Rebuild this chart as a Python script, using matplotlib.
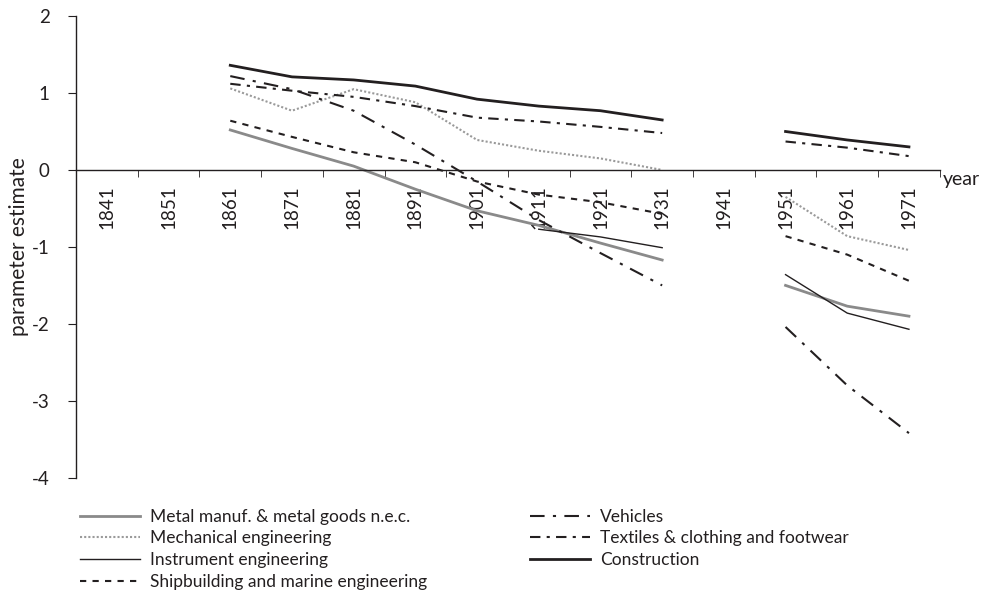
import numpy as np
import matplotlib
matplotlib.use('Agg')
import matplotlib.pyplot as plt

plt.rcParams['font.family'] = ['Lato', 'DejaVu Sans']

years = ['1841', '1851', '1861', '1871', '1881', '1891', '1901', '1911',
         '1921', '1931', '1941', '1951', '1961', '1971']
nan = np.nan

# parameter estimates per decade (nan = no estimate)
metal = [nan, nan, 0.52, 0.28, 0.05, -0.25, -0.53, -0.72, -0.95, -1.17, nan, -1.50, -1.77, -1.90]
mechanical = [nan, nan, 1.06, 0.77, 1.05, 0.88, 0.39, 0.25, 0.15, 0.00, nan, -0.35, -0.86, -1.04]
instrument = [nan, nan, nan, nan, nan, nan, nan, -0.77, -0.87, -1.01, nan, -1.36, -1.86, -2.07]
shipbuilding = [nan, nan, 0.64, 0.43, 0.23, 0.10, -0.15, -0.32, -0.42, -0.57, nan, -0.86, -1.10, -1.44]
vehicles = [nan, nan, 1.22, 1.05, 0.77, 0.33, -0.15, -0.65, -1.08, -1.50, nan, -2.04, -2.80, -3.42]
textiles = [nan, nan, 1.12, 1.03, 0.95, 0.83, 0.68, 0.63, 0.56, 0.48, nan, 0.37, 0.29, 0.18]
construction = [nan, nan, 1.36, 1.21, 1.17, 1.09, 0.92, 0.83, 0.77, 0.65, nan, 0.50, 0.39, 0.30]

txt = '#231f20'
fig = plt.figure(figsize=(9.81, 5.95), dpi=100)
ax = fig.add_axes([0.0775, 0.197, 0.8805, 0.776])

x = np.arange(len(years))
ax.plot(x, metal, color='#8a8a8a', lw=2, label='Metal manuf. & metal goods n.e.c.')
ax.plot(x, mechanical, color='#9a9a9a', lw=1.5, linestyle=(0, (1, 1)), label='Mechanical engineering')
ax.plot(x, instrument, color='#231f20', lw=1, label='Instrument engineering')
ax.plot(x, shipbuilding, color='#231f20', lw=1.5, linestyle=(0, (3, 3)), label='Shipbuilding and marine engineering')
ax.plot(x, vehicles, color='#231f20', lw=1.5, linestyle=(0, (7, 4, 1.5, 4)), label='Vehicles')
ax.plot(x, textiles, color='#231f20', lw=1.5, linestyle=(0, (5, 3, 1.5, 3)), label='Textiles & clothing and footwear')
ax.plot(x, construction, color='#231f20', lw=2, label='Construction')

ax.set_xlim(-0.5, len(years) - 0.5)
ax.set_ylim(-4, 2)
ax.set_yticks([-4, -3, -2, -1, 0, 1, 2])
ax.set_yticklabels(['-4', '-3', '-2', '-1', '0', '1', '2'])

# x axis drawn through zero, ticks between categories
ax.spines['bottom'].set_position(('data', 0))
ax.spines['top'].set_visible(False)
ax.spines['right'].set_visible(False)
for s in ['bottom', 'left']:
    ax.spines[s].set_color(txt)
    ax.spines[s].set_linewidth(1)

ax.set_xticks(x)
ax.set_xticklabels(years, rotation=90)
ax.set_xticks(np.arange(-0.5, len(years)), minor=True)
ax.tick_params(axis='x', which='major', length=0, pad=11, labelsize=13.5, colors=txt)
ax.tick_params(axis='x', which='minor', length=5, direction='out', color=txt)
ax.tick_params(axis='y', length=6, direction='out', pad=13, labelsize=13.5, colors=txt)

ax.set_ylabel('parameter estimate', fontsize=15, color=txt, labelpad=2)
ax.text(len(years) - 0.45, -0.01, 'year', fontsize=14, color=txt, ha='left', va='top')

fig.legend(loc='upper left', bbox_to_anchor=(0.0815, 0.145), ncol=2, frameon=False,
           fontsize=12.5, handlelength=3.45, handletextpad=0.6, columnspacing=5.9,
           labelspacing=0.33, borderpad=0, borderaxespad=0, labelcolor=txt)

fig.savefig('out.png', dpi=100)
